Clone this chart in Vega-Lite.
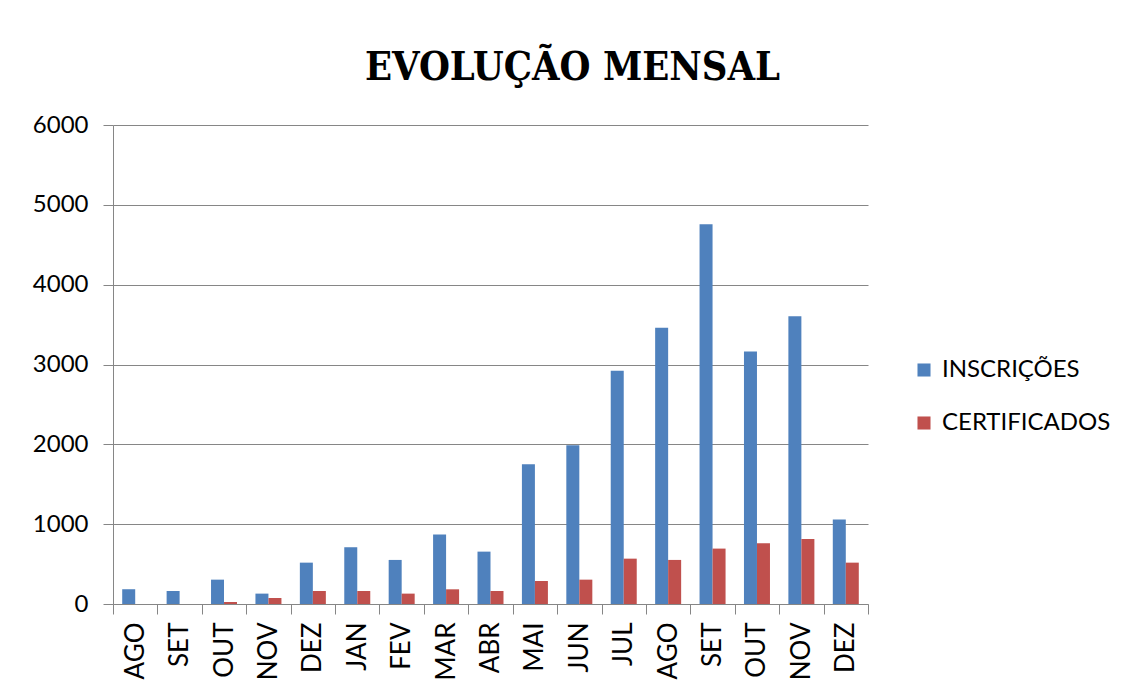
{
  "$schema": "https://vega.github.io/schema/vega-lite/v6.json",
  "width": 755,
  "height": 479,
  "autosize": {"type": "none"},
  "padding": {"left": 113, "top": 125, "right": 261, "bottom": 91},
  "background": "white",
  "title": {
    "text": "EVOLUÇÃO MENSAL",
    "font": "DejaVu Serif Condensed",
    "fontWeight": "bold",
    "fontSize": 39.5,
    "color": "#000000",
    "anchor": "middle",
    "frame": "group",
    "dx": 82,
    "offset": 25
  },
  "data": {
    "values": [
      {"periodo": "01|AGO", "serie": "INSCRIÇÕES", "valor": 185},
      {"periodo": "02|SET", "serie": "INSCRIÇÕES", "valor": 163},
      {"periodo": "03|OUT", "serie": "INSCRIÇÕES", "valor": 305},
      {"periodo": "04|NOV", "serie": "INSCRIÇÕES", "valor": 130},
      {"periodo": "05|DEZ", "serie": "INSCRIÇÕES", "valor": 518},
      {"periodo": "06|JAN", "serie": "INSCRIÇÕES", "valor": 711},
      {"periodo": "07|FEV", "serie": "INSCRIÇÕES", "valor": 552},
      {"periodo": "08|MAR", "serie": "INSCRIÇÕES", "valor": 869},
      {"periodo": "09|ABR", "serie": "INSCRIÇÕES", "valor": 656},
      {"periodo": "10|MAI", "serie": "INSCRIÇÕES", "valor": 1750},
      {"periodo": "11|JUN", "serie": "INSCRIÇÕES", "valor": 1990},
      {"periodo": "12|JUL", "serie": "INSCRIÇÕES", "valor": 2921},
      {"periodo": "13|AGO", "serie": "INSCRIÇÕES", "valor": 3460},
      {"periodo": "14|SET", "serie": "INSCRIÇÕES", "valor": 4758},
      {"periodo": "15|OUT", "serie": "INSCRIÇÕES", "valor": 3162},
      {"periodo": "16|NOV", "serie": "INSCRIÇÕES", "valor": 3604},
      {"periodo": "17|DEZ", "serie": "INSCRIÇÕES", "valor": 1058},
      {"periodo": "01|AGO", "serie": "CERTIFICADOS", "valor": 0},
      {"periodo": "02|SET", "serie": "CERTIFICADOS", "valor": 0},
      {"periodo": "03|OUT", "serie": "CERTIFICADOS", "valor": 25},
      {"periodo": "04|NOV", "serie": "CERTIFICADOS", "valor": 75},
      {"periodo": "05|DEZ", "serie": "CERTIFICADOS", "valor": 163},
      {"periodo": "06|JAN", "serie": "CERTIFICADOS", "valor": 163},
      {"periodo": "07|FEV", "serie": "CERTIFICADOS", "valor": 130},
      {"periodo": "08|MAR", "serie": "CERTIFICADOS", "valor": 184},
      {"periodo": "09|ABR", "serie": "CERTIFICADOS", "valor": 163},
      {"periodo": "10|MAI", "serie": "CERTIFICADOS", "valor": 288},
      {"periodo": "11|JUN", "serie": "CERTIFICADOS", "valor": 305},
      {"periodo": "12|JUL", "serie": "CERTIFICADOS", "valor": 568},
      {"periodo": "13|AGO", "serie": "CERTIFICADOS", "valor": 552},
      {"periodo": "14|SET", "serie": "CERTIFICADOS", "valor": 694},
      {"periodo": "15|OUT", "serie": "CERTIFICADOS", "valor": 761},
      {"periodo": "16|NOV", "serie": "CERTIFICADOS", "valor": 815},
      {"periodo": "17|DEZ", "serie": "CERTIFICADOS", "valor": 518}
    ]
  },
  "mark": {"type": "bar"},
  "encoding": {
    "x": {
      "field": "periodo",
      "type": "nominal",
      "sort": "ascending",
      "scale": {"paddingInner": 0, "paddingOuter": 0},
      "axis": {
        "title": null,
        "labelExpr": "split(datum.label, '|')[1]",
        "labelAngle": -90,
        "labelFont": "Lato",
        "labelFontSize": 26,
        "labelColor": "#000000",
        "labelPadding": 8,
        "tickBand": "extent",
        "tickColor": "#868686",
        "tickSize": 10,
        "domainColor": "#868686",
        "grid": false
      }
    },
    "xOffset": {
      "field": "serie",
      "type": "nominal",
      "scale": {"domain": ["INSCRIÇÕES", "CERTIFICADOS"], "paddingInner": 0, "paddingOuter": 0.708}
    },
    "y": {
      "field": "valor",
      "type": "quantitative",
      "scale": {"domain": [0, 6000], "nice": false},
      "axis": {
        "title": null,
        "values": [0, 1000, 2000, 3000, 4000, 5000, 6000],
        "format": "d",
        "labelFont": "Lato",
        "labelFontSize": 24,
        "labelColor": "#000000",
        "labelPadding": 15,
        "tickColor": "#868686",
        "tickSize": 10,
        "domainColor": "#868686",
        "gridColor": "#868686",
        "gridOpacity": 1
      }
    },
    "color": {
      "field": "serie",
      "type": "nominal",
      "scale": {"domain": ["INSCRIÇÕES", "CERTIFICADOS"], "range": ["#4F81BD", "#C0504D"]},
      "legend": {
        "title": null,
        "orient": "none",
        "legendX": 799,
        "legendY": 233,
        "symbolType": "square",
        "symbolSize": 170,
        "symbolStrokeWidth": 0,
        "labelFont": "Lato",
        "labelFontSize": 24,
        "labelColor": "#000000",
        "labelOffset": 6,
        "labelLimit": 400,
        "rowPadding": 29
      }
    }
  },
  "config": {
    "view": {"stroke": null}
  }
}
